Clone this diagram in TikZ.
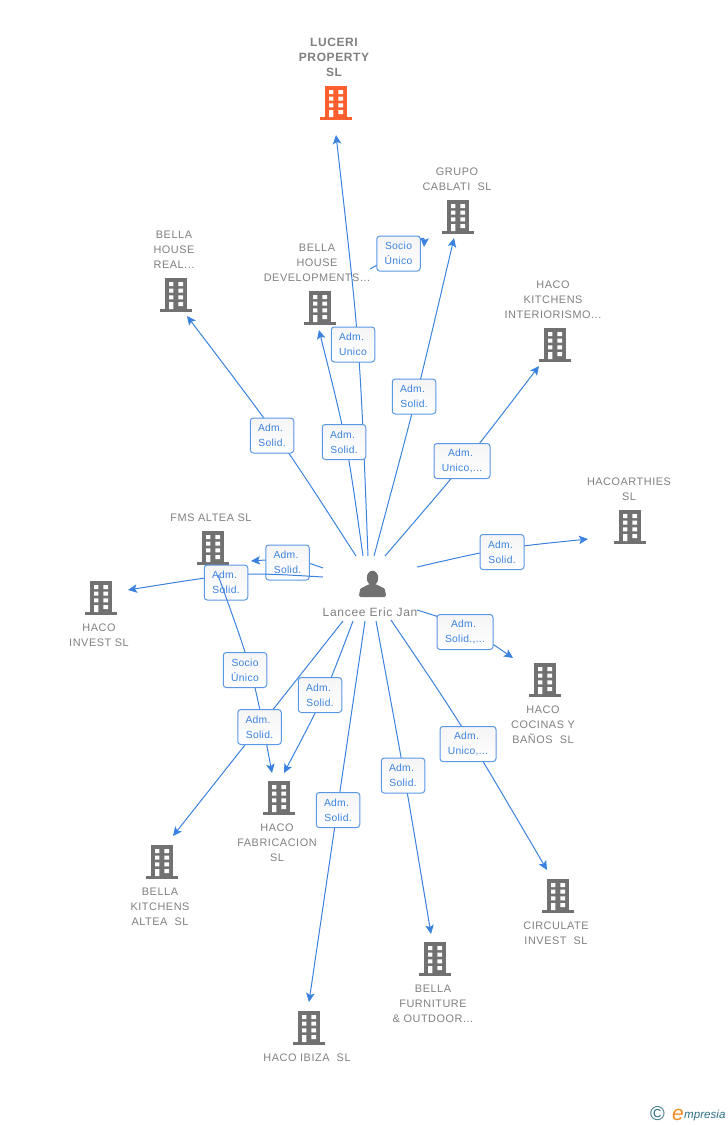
\documentclass[tikz,border=0pt]{standalone}
\usepackage{fontspec}
\setmainfont{Liberation Sans}
\newfontfamily\ttlfont[LetterSpace=5]{Liberation Sans}
\newfontfamily\labfont[LetterSpace=3]{Liberation Sans}
\newfontfamily\perfont[LetterSpace=6]{Liberation Sans}
\usetikzlibrary{arrows.meta}
\definecolor{linkblue}{HTML}{3B82DF}
\definecolor{boxblue}{HTML}{5B97E5}
\definecolor{bldgrey}{HTML}{717171}
\definecolor{txtgrey}{HTML}{808080}
\definecolor{orangeb}{HTML}{FF5F2E}
\definecolor{teal1}{HTML}{2F6F86}
\definecolor{orange2}{HTML}{F08A24}
\tikzset{
  conn/.style={draw=linkblue,line width=1pt,-{Stealth[length=9pt,width=8.5pt,inset=2pt]}},
  lab/.style={draw=boxblue,line width=1pt,rounded corners=3pt,top color=black!4,bottom color=white,
     minimum width=43.5pt,minimum height=35pt,inner sep=0pt,text=linkblue,font=\labfont\fontsize{10.3}{15}\selectfont,align=center},
  ttl/.style={text=txtgrey,font=\ttlfont\fontsize{10.9}{15}\selectfont,align=center,inner sep=0pt,anchor=south},
  ttlb/.style={ttl,anchor=north}
}
% name, centre x, top y, colour
\newcommand{\bldg}[4]{%
  \begin{scope}[shift={(#2,#3)}]
    \coordinate (#1) at (0,17);
    \fill[#4] (-11,0) rectangle (11,31);
    \fill[#4] (-16,31) rectangle (16,34);
    \fill[white] (-7,4) rectangle (-2.6,8) (2.4,4) rectangle (7,8)
      (-7,10.7) rectangle (-2.6,14.7) (2.4,10.7) rectangle (7,14.7)
      (-7,17.3) rectangle (-2.6,21.3) (2.4,17.3) rectangle (7,21.3)
      (-7,24) rectangle (-2.6,31) (2.4,24) rectangle (7,28);
  \end{scope}}
\newcommand{\Adm}{Adm.\kern3pt}
\begin{document}
\begin{tikzpicture}[x=1pt,y=-1pt]
\useasboundingbox (0,0) rectangle (728,1125);
% buildings
\bldg{luceri}{336}{86}{orangeb}
\bldg{grupo}{458}{200}{bldgrey}
\bldg{breal}{176}{278}{bldgrey}
\bldg{bdev}{320}{291}{bldgrey}
\bldg{kitch}{555}{328}{bldgrey}
\bldg{arth}{630}{510}{bldgrey}
\bldg{fms}{213}{531}{bldgrey}
\bldg{invest}{101}{581}{bldgrey}
\bldg{cocin}{545}{663}{bldgrey}
\bldg{fabr}{279}{781}{bldgrey}
\bldg{bkit}{162}{845}{bldgrey}
\bldg{circ}{558}{879}{bldgrey}
\bldg{furn}{435}{942}{bldgrey}
\bldg{ibiza}{309}{1011}{bldgrey}
% titles
\node[ttl,font=\ttlfont\fontsize{12}{15}\selectfont\bfseries] (tluceri) at (334,76.5) {LUCERI\\PROPERTY\\SL};
\node[ttl] (tgrupo) at (457,190.5) {GRUPO\\CABLATI\ \ SL};
\node[ttl] (tbreal) at (174,268.5) {BELLA\\HOUSE\\REAL...};
\node[ttl] (tbdev) at (317,281.5) {BELLA\\HOUSE\\DEVELOPMENTS...};
\node[ttl] (tkitch) at (553,318.5) {HACO\\KITCHENS\\INTERIORISMO...};
\node[ttl] (tarth) at (629,500.5) {HACOARTHIES\\SL};
\node[ttl] (tfms) at (211,521.5) {FMS ALTEA SL};
\node[ttlb] (tinvest) at (99,623.5) {HACO\\INVEST SL};
\node[ttlb] (tcocin) at (543,705.5) {HACO\\COCINAS Y\\BAÑOS\ \ SL};
\node[ttlb] (tfabr) at (277,823.5) {HACO\\FABRICACION\\SL};
\node[ttlb] (tbkit) at (160,887.5) {BELLA\\KITCHENS\\ALTEA\ \ SL};
\node[ttlb] (tcirc) at (556,921.5) {CIRCULATE\\INVEST\ \ SL};
\node[ttlb] (tfurn) at (433,984.5) {BELLA\\FURNITURE\\\& OUTDOOR...};
\node[ttlb] (tibiza) at (307,1053.5) {HACO IBIZA\ \ SL};
% person
\coordinate (person) at (372,590);
\fill[bldgrey] (372.5,578) ellipse (5.7 and 7.3);
\fill[bldgrey,rounded corners=2pt] (359,597) -- (359.5,591) .. controls (361,587.5) and (365,587) .. (368,584) -- (377,584) .. controls (380,587) and (384,587.5) .. (385.5,591) -- (386,597) -- cycle;
\node[text=txtgrey,font=\perfont\fontsize{12}{15}\selectfont,inner sep=0pt] (pname) at (370,612) {Lancee Eric Jan};
% connector ends
\coordinate (s1) at (368,556); \coordinate (e1) at (336,135);
\coordinate (s2) at (374,556); \coordinate (e2) at (454,238);
\coordinate (s3) at (363,556); \coordinate (e3) at (319,330);
\coordinate (s4) at (356,556); \coordinate (e4) at (187,316);
\coordinate (s5) at (370,269); \coordinate (e5) at (424,247);
\coordinate (s6) at (385,556); \coordinate (e6) at (539,366);
\coordinate (s7) at (417,567); \coordinate (e7) at (588,539);
\coordinate (s8) at (417,610); \coordinate (e8) at (513,658);
\coordinate (s9) at (391,620); \coordinate (e9) at (547,870);
\coordinate (s10) at (376,621); \coordinate (e10) at (431,934);
\coordinate (s11) at (365,621); \coordinate (e11) at (309,1002);
\coordinate (s12) at (353,621); \coordinate (e12) at (284,773);
\coordinate (s13) at (343,621); \coordinate (e13) at (173,836);
\coordinate (s14) at (218,575); \coordinate (e14) at (272,773);
\coordinate (s15) at (323,568); \coordinate (e15) at (251,561);
\coordinate (s16) at (323,577); \coordinate (e16) at (128,590);
% connectors and labels
\draw[conn] (s1) .. controls (360,346) .. (e1);
\draw[conn] (s2) .. controls (417,396) .. (e2);
\draw[conn] (s3) .. controls (347,442) .. (e3);
\draw[conn] (s4) .. controls (282,441) .. (e4);
\draw[conn] (s5) .. controls (405,250) and (425,232) .. (e5);
\draw[conn] (s6) .. controls (465,463) .. (e6);
\draw[conn] (s7) .. controls (500,548) .. (e7);
\draw[conn] (s8) .. controls (465,625) .. (e8);
\draw[conn] (s9) .. controls (462,725) .. (e9);
\draw[conn] (s10) .. controls (404,772) .. (e10);
\draw[conn] (s11) -- (e11);
\draw[conn] (s12) .. controls (325,695) .. (e12);
\draw[conn] (s13) -- (e13);
\draw[conn] (s15) .. controls (295,558) .. (e15);
\node[lab] (l15) at (287.5,562.5) {\Adm\\Solid.};
\draw[conn] (s16) .. controls (240,572) .. (e16);
\node[lab] (l16) at (226,582.5) {\Adm\\Solid.};
\draw[conn] (s14) .. controls (253,672) .. (e14);
\node[lab] (l1) at (353,344.5) {\Adm\\Unico};
\node[lab] (l2) at (414,396.5) {\Adm\\Solid.};
\node[lab] (l3) at (344,442) {\Adm\\Solid.};
\node[lab] (l4) at (272,435.5) {\Adm\\Solid.};
\node[lab] (l5) at (398.5,253.5) {Socio\\Único};
\node[lab,minimum width=56pt] (l6) at (462,461) {\Adm\\Unico,...};
\node[lab,minimum width=44pt] (l7) at (502,552) {\Adm\\Solid.};
\node[lab,minimum width=56pt] (l8) at (465,632) {\Adm\\Solid.,...};
\node[lab,minimum width=56pt] (l9) at (468,744) {\Adm\\Unico,...};
\node[lab] (l10) at (403,775.5) {\Adm\\Solid.};
\node[lab] (l11) at (338,810) {\Adm\\Solid.};
\node[lab] (l12) at (320,695) {\Adm\\Solid.};
\node[lab] (l13) at (259.5,727) {\Adm\\Solid.};
\node[lab] (l14) at (245,670) {Socio\\Único};
% logo
\node[text=teal1,font=\fontsize{20}{20}\selectfont,inner sep=0pt] (copy) at (657.5,1114) {©};
\node[text=orange2,font=\fontsize{21}{21}\selectfont\itshape,inner sep=0pt] (logoe) at (678,1115) {e};
\node[text=teal1,font=\fontsize{11.6}{14}\selectfont\itshape,inner sep=0pt,anchor=base west] (logot) at (684,1118) {mpresia};
\end{tikzpicture}
\end{document}
